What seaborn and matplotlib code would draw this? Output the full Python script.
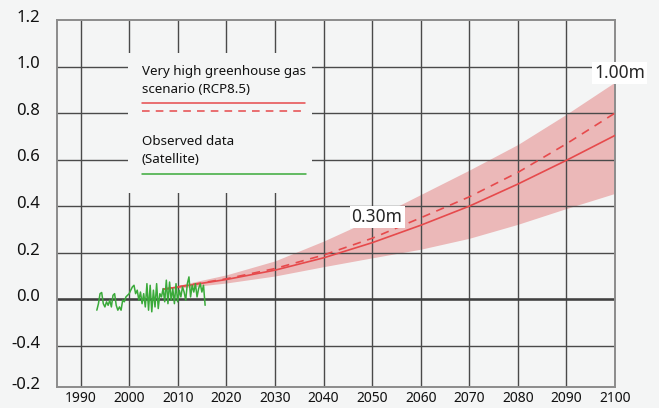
import numpy as np
import pandas as pd
import matplotlib.pyplot as plt
import matplotlib.transforms as mtransforms
import seaborn as sns

# --- projection (RCP8.5) ---
proj_years = [2007, 2020, 2030, 2040, 2050, 2060, 2070, 2080, 2090, 2100]
proj_mid = [0.043, 0.085, 0.125, 0.178, 0.243, 0.318, 0.400, 0.495, 0.597, 0.704]
proj_dashed = [0.043, 0.088, 0.132, 0.190, 0.262, 0.350, 0.440, 0.545, 0.668, 0.800]
band_low = [0.040, 0.070, 0.100, 0.140, 0.178, 0.215, 0.262, 0.322, 0.390, 0.455]
band_high = [0.046, 0.105, 0.165, 0.250, 0.345, 0.450, 0.555, 0.665, 0.795, 0.933]

# --- observed satellite data (1993 - 2015.6) ---
obs_values = [-0.047, -0.019, 0.024, 0.029, -0.019, -0.033, -0.011, -0.026, -0.004, -0.033,
              0.017, 0.024, -0.026, -0.047, -0.033, -0.047, -0.004, -0.011, 0.010, 0.017,
              0.024, 0.039, 0.053, 0.060, 0.024, 0.039, -0.004, 0.031, -0.019, 0.024,
              -0.033, 0.067, -0.047, 0.060, -0.054, 0.039, -0.033, 0.067, -0.040, 0.024,
              0.010, 0.046, -0.011, 0.082, -0.019, 0.074, -0.004, 0.046, -0.019, 0.067,
              -0.011, 0.039, 0.010, 0.053, 0.031, -0.004, 0.067, 0.096, 0.010, 0.060,
              0.031, 0.067, 0.010, 0.046, 0.067, 0.031, 0.060, -0.026]
obs_years = np.linspace(1993.3, 2015.6, len(obs_values))

x_ticks = list(range(1990, 2101, 10))
y_ticks = [1.2, 1.0, 0.8, 0.6, 0.4, 0.2, 0.0, -0.2, -0.377]
y_labels = ['1.2', '1.0', '0.8', '0.6', '0.4', '0.2', '0.0', '-0.4', '-0.2']

BG = '#f4f5f5'
RED = '#e64a4c'
GREEN = '#3aaa3a'
BAND = '#ebb8b8'

sns.set_theme(style='white')
plt.rcParams['font.family'] = ['Noto Sans', 'DejaVu Sans']

fig = plt.figure(figsize=(6.59, 4.08), dpi=100, facecolor=BG)
ax = fig.add_axes([0.0865, 0.0515, 0.8467, 0.8995])
ax.set_facecolor(BG)

df_proj = pd.DataFrame({'year': proj_years, 'mid': proj_mid, 'dashed': proj_dashed})
df_obs = pd.DataFrame({'year': obs_years, 'value': obs_values})

ax.fill_between(proj_years, band_low, band_high, color=BAND, lw=0, zorder=1)
sns.lineplot(data=df_proj, x='year', y='mid', ax=ax, color=RED, lw=1.2, zorder=3)
sns.lineplot(data=df_proj, x='year', y='dashed', ax=ax, color=RED, lw=1.2, zorder=3)
ax.lines[-1].set_dashes([5, 4])
sns.lineplot(data=df_obs, x='year', y='value', ax=ax, color=GREEN, lw=1.1, zorder=3)

ax.set_xlim(1985.1, 2100)
ax.set_ylim(-0.377, 1.2)
ax.set_xticks(x_ticks)
ax.set_yticks(y_ticks)
ax.set_yticklabels(y_labels)
ax.set_xlabel('')
ax.set_ylabel('')
ax.tick_params(axis='both', length=0, colors='#111111')
ax.tick_params(axis='y', labelsize=12, pad=12)
ax.tick_params(axis='x', labelsize=10, pad=3)
for lab in ax.get_yticklabels():
    lab.set_transform(lab.get_transform() + mtransforms.ScaledTranslation(0, 3 / 72, fig.dpi_scale_trans))

ax.set_axisbelow(False)
ax.grid(True, color='#4a4a4a', lw=1.0)
ax.yaxis.get_gridlines()[0].set_visible(False)
ax.yaxis.get_gridlines()[-1].set_visible(False)
ax.xaxis.get_gridlines()[-1].set_visible(False)
ax.axhline(0, color='#404040', lw=1.8, zorder=2.6)

for side in ['left', 'right', 'top', 'bottom']:
    ax.spines[side].set_visible(True)
    ax.spines[side].set_color('#8c8c8c')
    ax.spines[side].set_linewidth(1.4)
    ax.spines[side].set_zorder(2.7)

# legend box, drawn by hand
ax.add_patch(plt.Rectangle((0.127, 0.529), 0.330, 0.381, transform=ax.transAxes,
                           facecolor=BG, edgecolor='none', zorder=4))
leg_font = 9.6
ax.text(0.152, 0.859, 'Very high greenhouse gas', transform=ax.transAxes,
        fontsize=leg_font, va='center', zorder=5, color='#111111')
ax.text(0.152, 0.811, 'scenario (RCP8.5)', transform=ax.transAxes,
        fontsize=leg_font, va='center', zorder=5, color='#111111')
ax.plot([0.152, 0.444], [0.773, 0.773], transform=ax.transAxes, color=RED, lw=1.1, zorder=5)
ax.plot([0.152, 0.444], [0.751, 0.751], transform=ax.transAxes, color=RED, lw=1.1,
        dashes=[5, 4], zorder=5)
ax.text(0.152, 0.668, 'Observed data', transform=ax.transAxes,
        fontsize=leg_font, va='center', zorder=5, color='#111111')
ax.text(0.152, 0.619, '(Satellite)', transform=ax.transAxes,
        fontsize=leg_font, va='center', zorder=5, color='#111111')
ax.plot([0.152, 0.447], [0.580, 0.580], transform=ax.transAxes, color=GREEN, lw=1.1, zorder=5)

# annotations
box = dict(facecolor='white', edgecolor='none', pad=1.5)
ax.text(2051, 0.353, '0.30m', fontsize=12.5, ha='center', va='center', bbox=box, zorder=5)
ax.text(2100.9, 0.973, '1.00m', fontsize=12.5, ha='center', va='center', bbox=box,
        zorder=5, clip_on=False)

plt.savefig('out.png', dpi=100, facecolor=BG)
plt.close()
